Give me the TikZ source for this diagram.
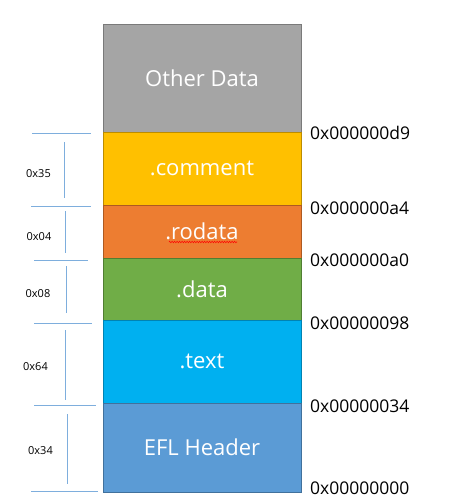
\documentclass[tikz,border=0pt]{standalone}
\usepackage{fontspec}
\setmainfont{Open Sans}
\usetikzlibrary{decorations.pathmorphing}
\definecolor{cGray}{HTML}{A5A5A5}\definecolor{bGray}{HTML}{7A7A7A}
\definecolor{cYellow}{HTML}{FFC000}\definecolor{bYellow}{HTML}{BC8C00}
\definecolor{cOrange}{HTML}{ED7D31}\definecolor{bOrange}{HTML}{AE5A21}
\definecolor{cGreen}{HTML}{70AD47}\definecolor{bGreen}{HTML}{507E32}
\definecolor{cCyan}{HTML}{00B0F0}\definecolor{bCyan}{HTML}{0083B3}
\definecolor{cBlue}{HTML}{5B9BD5}\definecolor{bBlue}{HTML}{41719C}
\definecolor{tickBlue}{HTML}{7EAEDD}
\tikzset{
  seg/.style={draw=#1, line width=1pt, minimum width=198pt, inner sep=0pt,
    text=white, font=\fontsize{22}{22}\selectfont},
  addr/.style={anchor=west, inner sep=0pt, font=\fontsize{17.5}{17.5}\selectfont},
  size/.style={inner sep=0pt, font=\fontsize{11}{11}\selectfont},
  tick/.style={draw=tickBlue, line width=0.9pt},
}
\begin{document}
\begin{tikzpicture}[x=1pt,y=-1pt]
\useasboundingbox (0,0) rectangle (453,504);
% memory segments, top to bottom
\node[seg=bGray,   fill=cGray,   minimum height=108pt] (other)   at (202,78)    {Other Data};
\node[seg=bYellow, fill=cYellow, minimum height=73pt]  (comment) at (202,168.5) {.comment};
\node[seg=bOrange, fill=cOrange, minimum height=53pt]  (rodata)  at (202,231.5) {.rodata};
\node[seg=bGreen,  fill=cGreen,  minimum height=62pt]  (data)    at (202,289)   {.data};
\node[seg=bCyan,   fill=cCyan,   minimum height=83pt]  (text)    at (202,361.5) {.text};
\node[seg=bBlue,   fill=cBlue,   minimum height=89pt]  (header)  at (202,447.5) {EFL Header};
% spell-check underline
\draw[red, line width=0.6pt, decorate, decoration={zigzag, amplitude=0.7pt, segment length=2.5pt}]
  (169,242) -- (237,242);
% boundary addresses
\node[addr] (a0) at (310,133) {0x000000d9};
\node[addr] (a1) at (310,208.5) {0x000000a4};
\node[addr] (a2) at (310,260) {0x000000a0};
\node[addr] (a3) at (310,323) {0x00000098};
\node[addr] (a4) at (310,406.5) {0x00000034};
\node[addr] (a5) at (310,488) {0x00000000};
% size markers
\draw[tick] (32,133.7) -- (91,133.7);
\draw[tick] (64.5,142) -- (64.5,198);
\draw[tick] (31,206) -- (91,206);
\draw[tick] (65.5,211) -- (65.5,253);
\draw[tick] (34,260.7) -- (88,260.7);
\draw[tick] (66,266) -- (66,313);
\draw[tick] (34,323.7) -- (92,323.7);
\draw[tick] (65.5,330) -- (65.5,400);
\draw[tick] (34,405) -- (96,405);
\draw[tick] (67,414) -- (67,484);
\draw[tick] (31,491.7) -- (98,491.7);
\node[size] (s0) at (38.5,174) {0x35};
\node[size] (s1) at (39,237) {0x04};
\node[size] (s2) at (38,294) {0x08};
\node[size] (s3) at (35.5,367) {0x64};
\node[size] (s4) at (40.5,451) {0x34};
\end{tikzpicture}
\end{document}
